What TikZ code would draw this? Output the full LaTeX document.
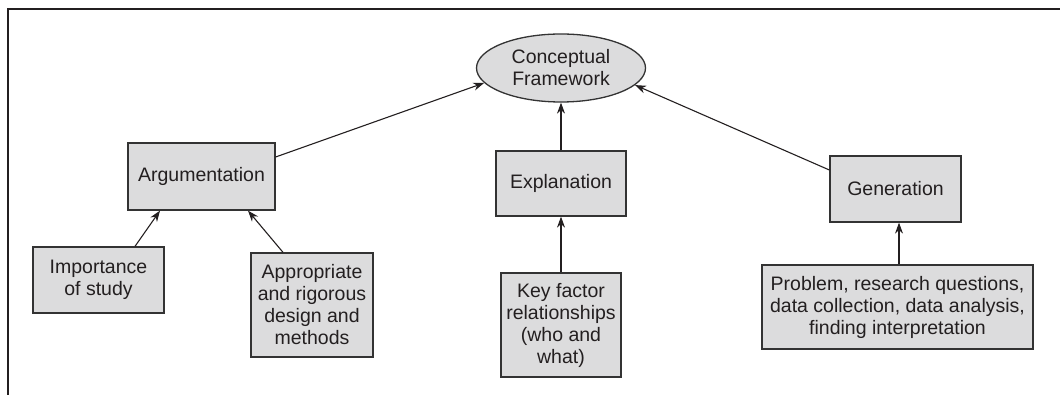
\documentclass[tikz,border=0pt]{standalone}
\usepackage{fontspec}
\setmainfont{Liberation Sans}
\usetikzlibrary{shapes.geometric,arrows.meta}
\definecolor{boxfill}{HTML}{DCDCDD}
\definecolor{edge}{HTML}{333333}
\definecolor{ink}{HTML}{231F20}
\tikzset{
  box/.style={draw=edge, line width=1.3pt, fill=boxfill, text=ink, align=center,
    inner sep=0pt, font=\fontsize{19.5}{22}\selectfont},
  oval/.style={box, ellipse},
  arr/.style={draw=ink, line width=1.1pt, -{Stealth[length=11pt,width=8pt]}},
  plain/.style={draw=ink, line width=1.1pt},
  frame/.style={draw=ink, line width=2.4pt}
}
\begin{document}
\begin{tikzpicture}[x=1pt,y=-1pt]
\useasboundingbox (0,0) rectangle (1060,395);
% frame
\coordinate (ftr) at (1060,9);
\coordinate (ftl) at (8,9);
\coordinate (fbl) at (8,395);
\draw[frame] (ftr) -- (ftl) -- (fbl);
% nodes
\node[oval, minimum width=169pt, minimum height=68pt] (cf) at (561,68) {Conceptual\\Framework};
\node[box, minimum width=147pt, minimum height=67pt] (arg) at (201.5,176.5) {Argumentation};
\node[box, minimum width=130pt, minimum height=65pt] (expl) at (561,183.5) {Explanation};
\node[box, minimum width=131pt, minimum height=66pt] (gen) at (895.5,189) {Generation};
\node[box, minimum width=131pt, minimum height=66pt] (imp) at (98.5,280) {Importance\\of study};
\node[box, minimum width=122pt, minimum height=104pt] (app) at (312,305) {Appropriate\\and rigorous\\design and\\methods};
\node[box, minimum width=120pt, minimum height=104pt] (key) at (561,325) {Key factor\\relationships\\(who and\\what)};
\node[box, minimum width=271pt, minimum height=84pt] (prob) at (897.5,307) {Problem, research questions,\\data collection, data analysis,\\finding interpretation};
% connectors
\draw[arr] ([yshift=19.5pt]arg.east) -- (cf.191);
\draw[arr] (expl.north) -- (cf.south);
\draw[arr] ([yshift=19pt]gen.west) -- (cf.347);
\draw[arr] ([xshift=36.5pt]imp.north) -- ([xshift=-41.5pt]arg.south);
\draw[arr] ([xshift=-29pt]app.north) -- ([xshift=46.5pt]arg.south);
\draw[arr] (key.north) -- (expl.south);
\draw[arr] ([xshift=1.5pt]prob.north) -- ([xshift=3.5pt]gen.south);
\end{tikzpicture}
\end{document}
